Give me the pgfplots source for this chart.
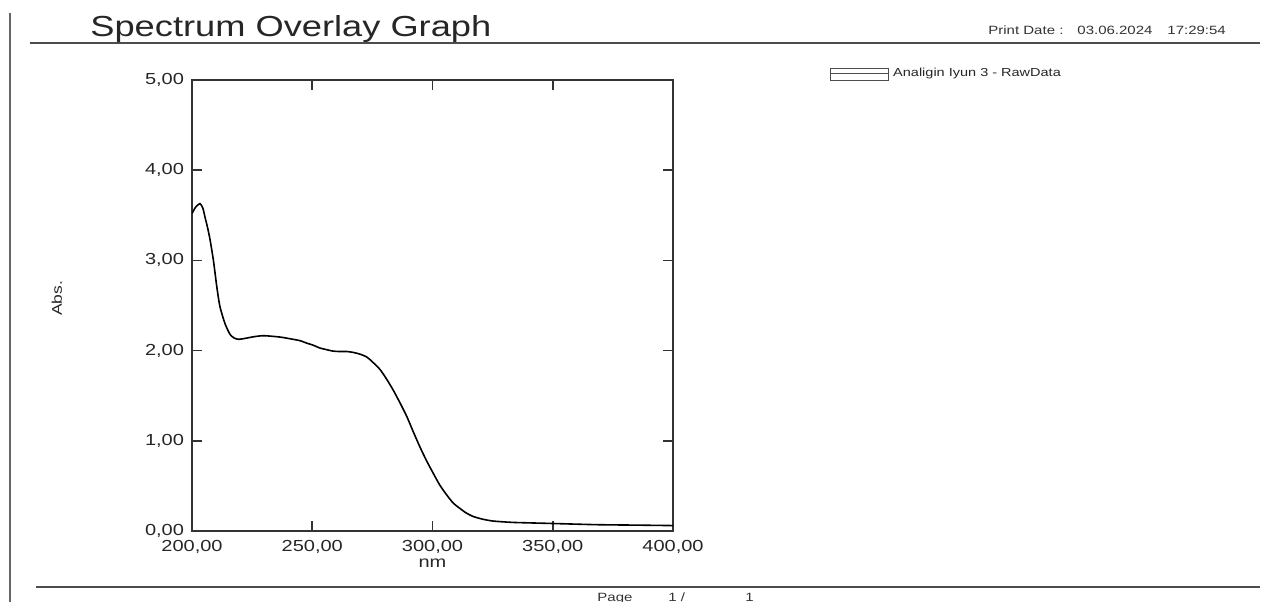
\documentclass[border=0pt]{standalone}
\usepackage{fontspec}
\setmainfont[FakeStretch=1.25]{Liberation Sans}
\usepackage{pgfplots}
\pgfplotsset{compat=1.18}
\pgfplotstableread{
nm abs
200.0 3.52
201.5 3.59
203.3 3.63
204.5 3.58
205.4 3.48
206.5 3.36
207.5 3.23
208.9 3.00
210.3 2.71
211.6 2.49
213.7 2.30
215.8 2.18
217.5 2.14
219.3 2.125
222.0 2.135
226.0 2.155
230.0 2.165
236.6 2.15
241.0 2.13
244.9 2.11
248.0 2.08
250.4 2.06
253.0 2.03
256.0 2.01
258.5 1.995
261.0 1.99
264.3 1.99
267.0 1.98
269.9 1.96
272.6 1.93
274.0 1.90
276.0 1.85
278.2 1.79
281.0 1.68
283.7 1.56
286.5 1.42
289.3 1.27
292.0 1.10
294.8 0.93
297.5 0.78
300.3 0.64
303.0 0.51
305.9 0.40
308.6 0.31
311.4 0.25
314.0 0.20
317.0 0.16
321.0 0.13
325.3 0.11
333.6 0.095
347.5 0.085
368.3 0.07
385.0 0.065
400.0 0.06
}\spectrum
\begin{document}
\begin{tikzpicture}
\begin{scope}[x=0.5bp,y=0.5bp]
\path[use as bounding box] (0,0) rectangle (1279,602);
\draw[line width=0.8bp, black!60] (10,0) -- (10,589);
\draw[line width=1.2bp, black!70] (30,559) -- (1260,559);
\draw[line width=1.2bp, black!70] (36,15) -- (1260,15);
\node[anchor=base west, inner sep=0pt, font=\fontsize{14.5bp}{16bp}\selectfont, text=black!85] at (90,565) {Spectrum Overlay Graph};
\node[anchor=base west, inner sep=0pt, font=\fontsize{6bp}{7bp}\selectfont, text=black!80] at (988,567) {Print Date :};
\node[anchor=base west, inner sep=0pt, font=\fontsize{6bp}{7bp}\selectfont, text=black!80] at (1077,567) {03.06.2024};
\node[anchor=base west, inner sep=0pt, font=\fontsize{6bp}{7bp}\selectfont, text=black!80] at (1167,567) {17:29:54};
\node[anchor=base west, inner sep=0pt, font=\fontsize{6bp}{7bp}\selectfont, text=black!80] at (597,0) {Page};
\node[anchor=base west, inner sep=0pt, font=\fontsize{6bp}{7bp}\selectfont, text=black!80] at (668,0) {1 /};
\node[anchor=base west, inner sep=0pt, font=\fontsize{6bp}{7bp}\selectfont, text=black!80] at (745,0) {1};
\end{scope}
\begin{axis}[
  at={(96bp,35.5bp)}, anchor=south west,
  scale only axis, width=240.5bp, height=225.5bp,
  xmin=200, xmax=400, ymin=0, ymax=5,
  xtick={200,250,300,350,400},
  ytick={0,1,2,3,4,5},
  tick align=inside,
  major tick length=5bp,
  axis line style={line width=1bp, black!80},
  every tick/.style={line width=0.8bp, black!80},
  ticklabel style={font=\fontsize{8bp}{9bp}\selectfont, text=black!85},
  /pgf/number format/assume math mode=true,
  /pgf/number format/.cd, fixed, fixed zerofill, precision=2, use comma, 1000 sep={},
  /pgfplots/.cd,
  xticklabel style={yshift=-1bp},
  yticklabel style={xshift=-0.5bp},
  xlabel={nm},
  xlabel style={font=\fontsize{8bp}{9bp}\selectfont, text=black!85, yshift=4bp},
  ylabel={Abs.},
  ylabel style={at={(axis description cs:-0.281,0.516)}, anchor=center, font=\fontsize{7bp}{8bp}\selectfont, text=black!85},
  legend style={at={(1.326,1.035)}, anchor=north west, draw=none, fill=none, inner sep=0pt,
    font=\fontsize{5.8bp}{7bp}\selectfont, text=black!85},
  legend cell align=left,
  legend image code/.code={
    \draw[black!70, line width=0.5bp] (0bp,-3bp) rectangle (29bp,3bp);
    \draw[black!70, line width=0.5bp] (0bp,0.5bp) -- (29bp,0.5bp);
  },
]
\addplot[black, line width=0.8bp, smooth, tension=0.4] table[x=nm, y=abs] {\spectrum};
\addlegendentry{Analigin Iyun 3 - RawData}
\end{axis}
\end{tikzpicture}
\end{document}
